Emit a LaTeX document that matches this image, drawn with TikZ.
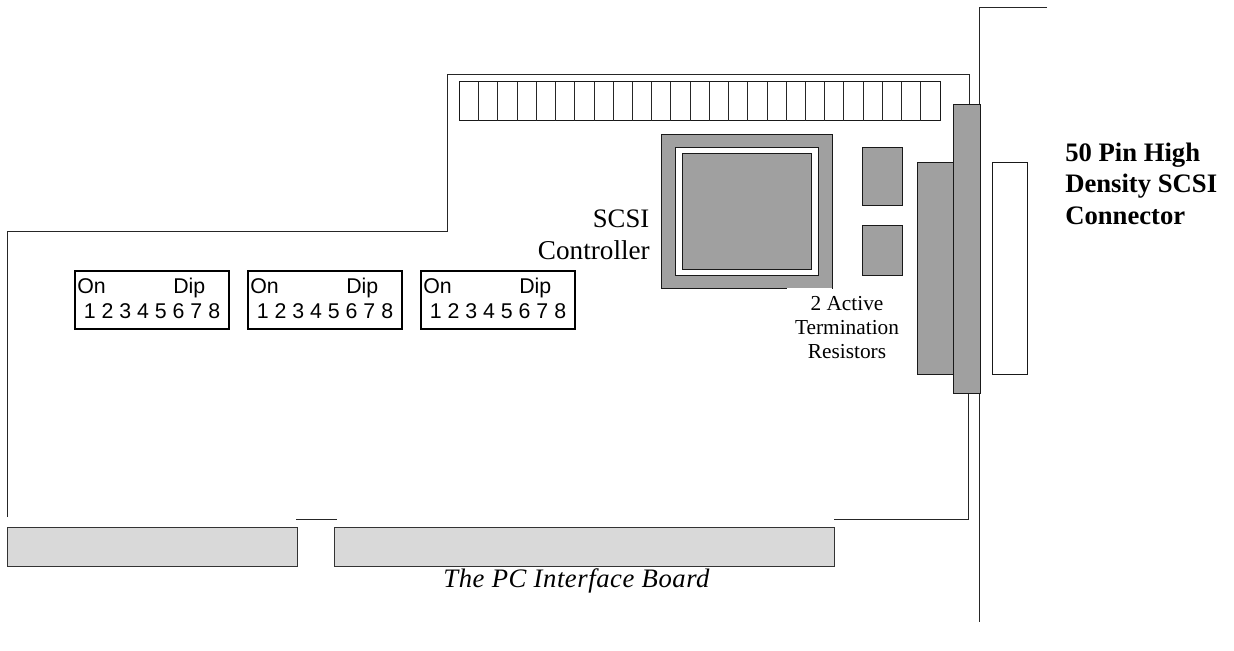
\documentclass[tikz,border=0pt]{standalone}
\usepackage{fontspec}
\setmainfont{Liberation Serif}
\newfontfamily\arialf{Liberation Sans}
\definecolor{partgray}{HTML}{A0A0A0}
\definecolor{slotgray}{HTML}{D9D9D9}
\tikzset{
  edge line/.style={draw=black!85,line width=0.75pt},
  part/.style={draw=black!90,line width=0.75pt,fill=partgray},
  slot/.style={draw=black!80,line width=0.75pt,fill=slotgray},
  hollow/.style={draw=black!90,line width=0.75pt,fill=white},
  dip label/.style={anchor=base west,inner sep=0pt,font=\arialf\fontsize{16}{18}\selectfont},
  label large/.style={inner sep=0pt,font=\fontsize{20}{24}\selectfont},
  label bold/.style={inner sep=0pt,anchor=base west,font=\bfseries\fontsize{20}{24}\selectfont},
  label small/.style={inner sep=0pt,align=center,font=\fontsize{16}{18}\selectfont},
}
\begin{document}
\begin{tikzpicture}[x=0.75pt,y=-0.75pt]
\useasboundingbox (0,0) rectangle (1234,650);
% mounting bracket
\coordinate (brT) at (979.5,7);
\coordinate (brE) at (1047,7);
\coordinate (brB) at (979.5,622);
\draw[edge line] (brE) -- (brT) -- (brB);
% board outline
\coordinate (b1) at (7.5,517);
\coordinate (b2) at (7.5,231);
\coordinate (b3) at (447.5,231);
\coordinate (b4) at (447.5,74);
\coordinate (b5) at (969,74);
\coordinate (b6) at (969,104);
\draw[edge line] (b1) -- (b2) -- (b3) -- (b4) -- (b5) -- (b6);
\coordinate (b7) at (968,393);
\coordinate (b8) at (968,519.5);
\coordinate (b9) at (834,519.5);
\coordinate (b10) at (296,519.5);
\coordinate (b11) at (337,519.5);
\draw[edge line] (b7) -- (b8) -- (b9);
\draw[edge line] (b10) -- (b11);
% memory strip
\draw[hollow] (459.5,81.5) rectangle (940,120.5);
\foreach \i in {1,...,24} \draw[edge line] ({459.5+\i*19.22},81.5) -- ({459.5+\i*19.22},120.5);
% chip
\draw[part] (661,134) rectangle (832,288);
\draw[hollow] (675,147) rectangle (818,275);
\draw[part] (682,153.5) rectangle (811,269);
\draw[white,line width=0.75pt] (787,288) -- (832,288);
% resistors
\draw[part] (862.5,147) rectangle (902,205);
\draw[part] (862.5,225.5) rectangle (902,275);
% SCSI connector
\draw[part] (917.5,162) rectangle (953.5,374);
\draw[part] (953.5,104.5) rectangle (980,393);
\draw[hollow] (992,162) rectangle (1027,374);
% slots
\draw[slot] (7.5,527) rectangle (297,566);
\draw[slot] (334.5,527) rectangle (834.5,566);
% dip switches
\foreach \x/\n in {75/a,248/b,421/c}{
  \draw[draw=black,line width=1pt,fill=white] (\x,271) rectangle (\x+154,329);
  \node[dip label] (on\n) at (\x+2,293) {On};
  \node[dip label] (dip\n) at (\x+98,293) {Dip};
  \node[dip label] (num\n) at (\x+8.5,318) {1 2 3 4 5 6 7 8};
}
% labels
\node[label large,anchor=base east] (l1) at (649.5,227) {SCSI};
\node[label large,anchor=base east,font=\fontsize{20.4}{24}\selectfont] (l2) at (650,259) {Controller};
\node[label small,anchor=base] (l3) at (847,310) {2 Active};
\node[label small,anchor=base] (l4) at (847,334) {Termination};
\node[label small,anchor=base] (l5) at (847,358) {Resistors};
\node[label bold] (t1) at (1065,161) {50 Pin High};
\node[label bold] (t2) at (1065,192.5) {Density SCSI};
\node[label bold] (t3) at (1065,224) {Connector};
\node[label large,anchor=base,font=\addfontfeature{LetterSpace=2.1}\itshape\fontsize{20}{24}\selectfont] (cap) at (576.5,587) {The PC Interface Board};
\end{tikzpicture}
\end{document}
